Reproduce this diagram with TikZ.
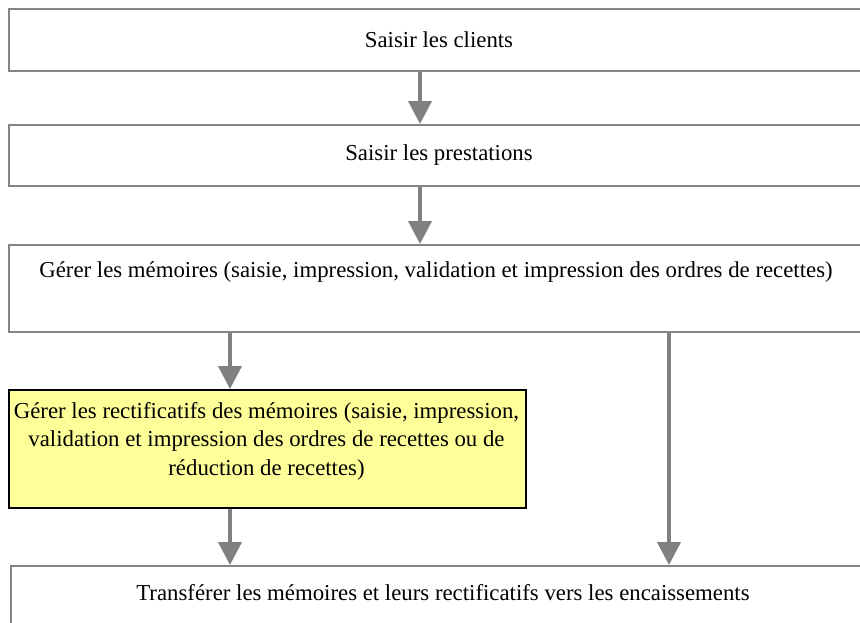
\documentclass[tikz,border=0pt]{standalone}
\usepackage{fontspec}
\setmainfont{Liberation Serif}
\usetikzlibrary{arrows.meta}
\definecolor{boxgray}{HTML}{858585}
\definecolor{arrowgray}{HTML}{808080}
\definecolor{noteyellow}{HTML}{FFFF99}
\tikzset{
  stepbox/.style={draw=boxgray, line width=1.8pt, fill=white, inner sep=0pt, anchor=north west},
  notebox/.style={draw=black, line width=1.6pt, fill=noteyellow, inner sep=0pt, anchor=north west},
  label text/.style={font=\fontsize{22.8}{28.5}\selectfont, align=center, inner sep=0pt},
  flow/.style={draw=arrowgray, line width=4pt, -{Triangle[width=23pt,length=23pt]}}
}
\begin{document}
\begin{tikzpicture}[x=1pt,y=-1pt]
  \useasboundingbox (0,0) rectangle (860,622);
  % process boxes (they run past the right edge)
  \node[stepbox, minimum width=858pt, minimum height=62pt] (b1) at (8,8) {};
  \node[stepbox, minimum width=858pt, minimum height=61pt] (b2) at (8,124) {};
  \node[stepbox, minimum width=858pt, minimum height=87pt] (b3) at (8,244) {};
  \node[notebox, minimum width=517pt, minimum height=118pt] (b4) at (8,389) {};
  \node[stepbox, minimum width=858pt, minimum height=80pt] (b5) at (10,565) {};
  % labels
  \node[label text] (t1) at (439,40) {Saisir les clients};
  \node[label text] (t2) at (439,155) {Saisir les prestations};
  \node[label text] (t3) at (436,272) {Gérer les mémoires (saisie, impression, validation et impression des ordres de recettes)};
  \node[label text] (t4) at (266.5,441) {Gérer les rectificatifs des mémoires (saisie, impression,\\validation et impression des ordres de recettes ou de\\réduction de recettes)};
  \node[label text] (t5) at (443,593) {Transférer les mémoires et leurs rectificatifs vers les encaissements};
  % connector columns
  \coordinate (cx1) at (420,0);
  \coordinate (cx2) at (230,0);
  \coordinate (cx3) at (669,0);
  % connectors
  \draw[flow] (b1.south -| cx1) -- (b2.north -| cx1);
  \draw[flow] (b2.south -| cx1) -- (b3.north -| cx1);
  \draw[flow] (b3.south -| cx2) -- (b4.north -| cx2);
  \draw[flow] (b4.south -| cx2) -- (b5.north -| cx2);
  \draw[flow] (b3.south -| cx3) -- (b5.north -| cx3);
\end{tikzpicture}
\end{document}
